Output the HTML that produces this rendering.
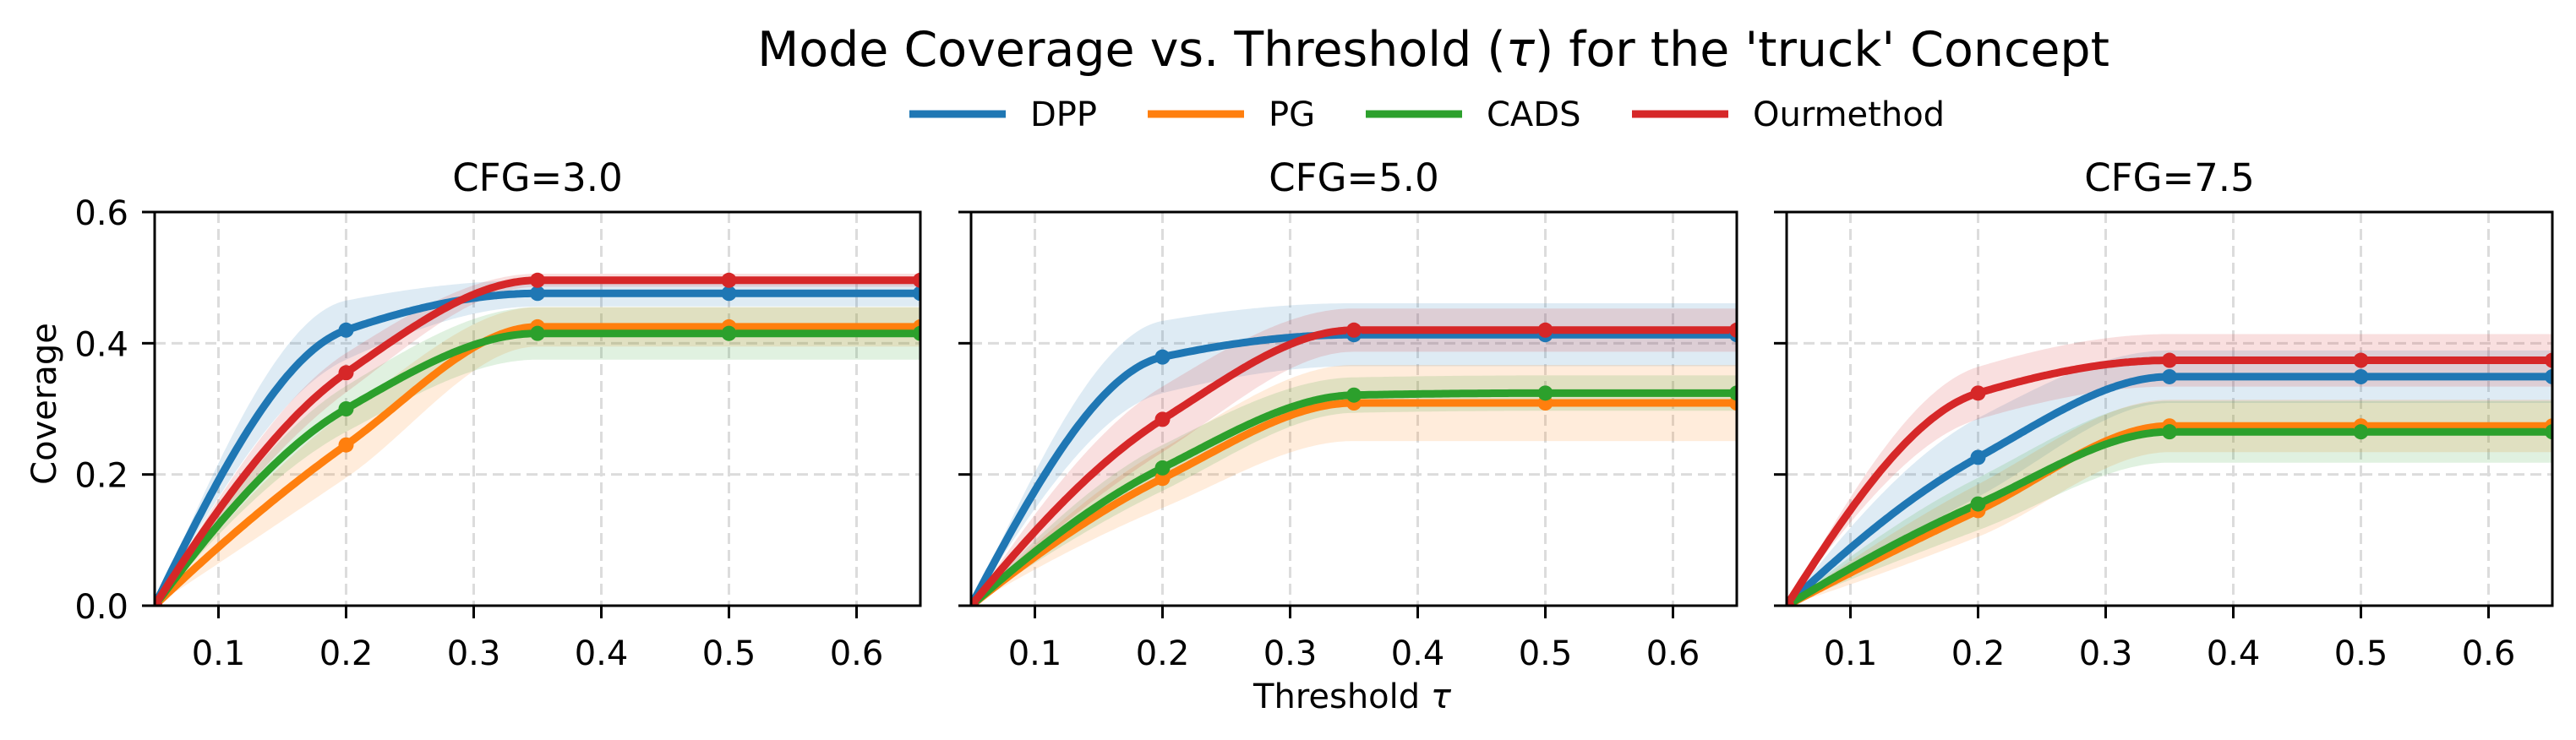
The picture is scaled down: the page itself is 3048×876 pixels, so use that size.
<!DOCTYPE html>
<html><head><meta charset="utf-8">
<style>
html,body{margin:0;padding:0;background:#fff;}
svg{display:block;font-family:"DejaVu Sans","Liberation Sans",sans-serif;}
</style></head>
<body>
<svg id="chart" width="3048" height="876" viewBox="0 0 3048 876" xmlns="http://www.w3.org/2000/svg">
<rect x="0" y="0" width="3048" height="876" fill="#fff"/>
<text x="1696" y="78" font-size="57" text-anchor="middle" fill="#000">Mode Coverage vs. Threshold (<tspan font-style="italic">τ</tspan>) for the 'truck' Concept</text>
<g id="legend"></g>
<g id="panels"></g>
<text x="1600" y="838" font-size="40" text-anchor="middle" fill="#000">Threshold <tspan font-style="italic">τ</tspan></text>
<text transform="translate(66,478) rotate(-90)" font-size="40" text-anchor="middle" fill="#000">Coverage</text>
</svg>
<script>
const thresholds = [0.05, 0.2, 0.35, 0.5, 0.65];
const methods = ["DPP", "PG", "CADS", "Ourmethod"];
const colors = ["#1f77b4", "#ff7f0e", "#2ca02c", "#d62728"];
const panelTitles = ["CFG=3.0", "CFG=5.0", "CFG=7.5"];
const xTicks = [0.1, 0.2, 0.3, 0.4, 0.5, 0.6];
const yTicks = [0.0, 0.2, 0.4, 0.6];
// mean values per panel, per method
const cfg3Mean = [[0,0.42,0.476,0.476,0.476],[0,0.245,0.425,0.425,0.425],[0,0.30,0.415,0.415,0.415],[0,0.355,0.496,0.496,0.496]];
const cfg3Std  = [[0,0.045,0.02,0.02,0.02],[0,0.05,0.03,0.03,0.03],[0,0.035,0.04,0.04,0.04],[0,0.03,0.01,0.01,0.01]];
const cfg5Mean = [[0,0.379,0.413,0.413,0.413],[0,0.194,0.309,0.309,0.309],[0,0.21,0.321,0.324,0.324],[0,0.284,0.42,0.42,0.42]];
const cfg5Std  = [[0,0.055,0.048,0.048,0.048],[0,0.045,0.058,0.058,0.058],[0,0.035,0.027,0.027,0.027],[0,0.05,0.033,0.033,0.033]];
const cfg75Mean = [[0,0.226,0.349,0.349,0.349],[0,0.145,0.274,0.274,0.274],[0,0.155,0.265,0.265,0.265],[0,0.324,0.374,0.374,0.374]];
const cfg75Std  = [[0,0.06,0.04,0.04,0.04],[0,0.04,0.04,0.04,0.04],[0,0.04,0.047,0.047,0.047],[0,0.04,0.04,0.04,0.04]];

const NS = "http://www.w3.org/2000/svg";
const panelsMeans = [cfg3Mean, cfg5Mean, cfg75Mean];
const panelsStds = [cfg3Std, cfg5Std, cfg75Std];
const panelLeft = [183, 1149, 2114];
const PW = 906, PT = 251, PB = 717;
const X0 = 0.05, X1 = 0.65, Y0 = 0, Y1 = 0.6;

function mk(tag, attrs, parent){const e=document.createElementNS(NS,tag);for(const k in attrs)e.setAttribute(k,attrs[k]);parent.appendChild(e);return e;}

function pchip(xs, ys){
  const n=xs.length,h=[],d=[],m=new Array(n).fill(0);
  for(let i=0;i<n-1;i++){h.push(xs[i+1]-xs[i]);d.push((ys[i+1]-ys[i])/h[i]);}
  for(let i=1;i<n-1;i++){
    if(d[i-1]*d[i]<=0)m[i]=0;
    else{const w1=2*h[i]+h[i-1],w2=h[i]+2*h[i-1];m[i]=(w1+w2)/(w1/d[i-1]+w2/d[i]);}
  }
  function endSlope(h0,h1,d0,d1){let s=((2*h0+h1)*d0-h0*d1)/(h0+h1);if(Math.sign(s)!==Math.sign(d0))s=0;else if(Math.sign(d0)!==Math.sign(d1)&&Math.abs(s)>Math.abs(3*d0))s=3*d0;return s;}
  m[0]=endSlope(h[0],h[1],d[0],d[1]);
  m[n-1]=endSlope(h[n-2],h[n-3],d[n-2],d[n-3]);
  return function(x){
    let i=0;while(i<n-2&&x>xs[i+1])i++;
    const t=(x-xs[i])/h[i],t2=t*t,t3=t2*t;
    return (2*t3-3*t2+1)*ys[i]+(t3-2*t2+t)*h[i]*m[i]+(-2*t3+3*t2)*ys[i+1]+(t3-t2)*h[i]*m[i+1];
  };
}

const svg=document.getElementById("chart");
const panelsG=document.getElementById("panels");
const legend=document.getElementById("legend");

// legend
const legX=[1076,1358,1616,1931];
methods.forEach((m,i)=>{
  const g=mk("g",{},legend);
  
  
  mk("line",{x1:legX[i],x2:legX[i]+114,y1:135,y2:135,stroke:colors[i],"stroke-width":9},g);
  const t=mk("text",{x:legX[i]+143,y:149,"font-size":40,fill:"#000"},g);
  t.textContent=m;
});

panelTitles.forEach((title,p)=>{
  const L=panelLeft[p];
  const sx=v=>L+(v-X0)/(X1-X0)*PW;
  const sy=v=>PB-(v-Y0)/(Y1-Y0)*(PB-PT);
  const g=mk("g",{},panelsG);
  
  
  const cid="clip"+p;
  const cp=mk("clipPath",{id:cid},g);
  mk("rect",{x:L,y:PT,width:PW,height:PB-PT},cp);
  // grid
  xTicks.forEach(v=>{const l=mk("line",{x1:sx(v),x2:sx(v),y1:PT,y2:PB,stroke:"#dcdcdc","stroke-width":3,"stroke-dasharray":"13 7"},g);
    });
  yTicks.forEach(v=>{const l=mk("line",{x1:L,x2:L+PW,y1:sy(v),y2:sy(v),stroke:"#dcdcdc","stroke-width":3,"stroke-dasharray":"13 7"},g);
    });
  const plot=mk("g",{"clip-path":"url(#"+cid+")"},g);
  const means=panelsMeans[p],stds=panelsStds[p];
  // bands
  methods.forEach((m,i)=>{
    const up=pchip(thresholds,means[i].map((v,k)=>v+stds[i][k]));
    const lo=pchip(thresholds,means[i].map((v,k)=>Math.max(0,v-stds[i][k])));
    let dU="",dL=[];
    for(let k=0;k<=300;k++){const x=X0+(X1-X0)*k/300;dU+=(k?"L":"M")+sx(x).toFixed(1)+","+sy(up(x)).toFixed(1);dL.unshift("L"+sx(x).toFixed(1)+","+sy(lo(x)).toFixed(1));}
    const band=mk("path",{d:dU+dL.join("")+"Z",fill:colors[i],"fill-opacity":0.15,stroke:"none"},plot);
    
    
  });
  // lines
  methods.forEach((m,i)=>{
    const f=pchip(thresholds,means[i]);
    let d="";
    for(let k=0;k<=300;k++){const x=X0+(X1-X0)*k/300;d+=(k?"L":"M")+sx(x).toFixed(1)+","+sy(f(x)).toFixed(1);}
    const line=mk("path",{d:d,fill:"none",stroke:colors[i],"stroke-width":9,"stroke-linejoin":"round"},plot);
    
    
  });
  methods.forEach((m,i)=>{
    thresholds.forEach((x,k)=>{
      const c=mk("circle",{cx:sx(x),cy:sy(means[i][k]),r:9,fill:colors[i]},plot);
      
      
    });
  });
  // frame
  const fr=mk("rect",{x:L,y:PT,width:PW,height:PB-PT,fill:"none",stroke:"#000","stroke-width":3},g);
  
  xTicks.forEach(v=>{
    mk("line",{x1:sx(v),x2:sx(v),y1:PB,y2:PB+15,stroke:"#000","stroke-width":3},g);
    const t=mk("text",{x:sx(v),y:787,"font-size":40,"text-anchor":"middle",fill:"#000"},g);
    
    t.textContent=v.toFixed(1);
  });
  yTicks.forEach(v=>{
    mk("line",{x1:L-15,x2:L,y1:sy(v),y2:sy(v),stroke:"#000","stroke-width":3},g);
    if(p===0){
      const t=mk("text",{x:152,y:sy(v)+15,"font-size":40,"text-anchor":"end",fill:"#000"},g);
      
      t.textContent=v.toFixed(1);
    }
  });
  const tt=mk("text",{x:L+PW/2,y:226,"font-size":45,"text-anchor":"middle",fill:"#000"},g);
  
  tt.textContent=title;
});
</script>
</body></html>
